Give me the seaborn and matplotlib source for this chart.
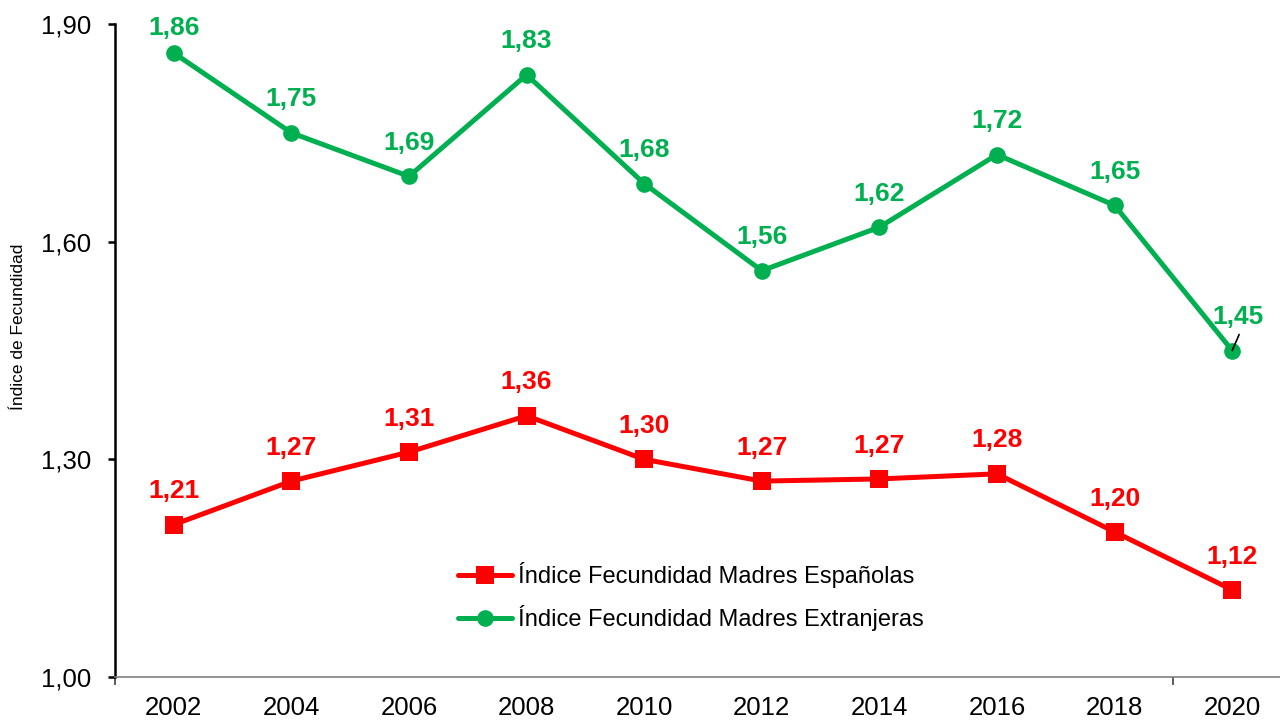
import matplotlib
matplotlib.use("Agg")
import matplotlib.pyplot as plt
import seaborn as sns
import pandas as pd

years = [2002, 2004, 2006, 2008, 2010, 2012, 2014, 2016, 2018, 2020]
espanolas = [1.21, 1.27, 1.31, 1.36, 1.30, 1.27, 1.273, 1.28, 1.20, 1.12]
extranjeras = [1.86, 1.75, 1.69, 1.83, 1.68, 1.56, 1.62, 1.72, 1.65, 1.45]
label_esp = "Índice Fecundidad Madres Españolas"
label_ext = "Índice Fecundidad Madres Extranjeras"
y_ticks = [1.00, 1.30, 1.60, 1.90]
y_title = "Índice de Fecundidad"

RED = "#FF0000"
GREEN = "#00B050"

sns.set_theme(style="white")
plt.rcParams["font.family"] = ["Liberation Sans", "DejaVu Sans"]

fig = plt.figure(figsize=(12.8, 7.2), dpi=100)
ax = fig.add_axes([115 / 1280, 43 / 720, 1176 / 1280, 653 / 720])

df = pd.DataFrame({"year": years, "esp": espanolas, "ext": extranjeras})
sns.lineplot(data=df, x="year", y="esp", ax=ax, color=RED, linewidth=3.6,
             marker="s", markersize=12.5, markeredgewidth=0, label=label_esp)
sns.lineplot(data=df, x="year", y="ext", ax=ax, color=GREEN, linewidth=3.6,
             marker="o", markersize=12, markeredgewidth=0, label=label_ext)

ax.set_xlim(2001, 2021)
ax.set_ylim(1.0, 1.9)
ax.set_xticks(years)
ax.set_xticklabels([str(y) for y in years], fontsize=18.5, color="black")
ax.set_xticks([2001, 2019], minor=True)
ax.tick_params(axis="x", which="major", length=0, pad=14)
ax.tick_params(axis="x", which="minor", length=6, width=1.2, color="#404040",
               direction="out", bottom=True)
ax.set_yticks(y_ticks)
ax.set_yticklabels([f"{v:.2f}".replace(".", ",") for v in y_ticks],
                   fontsize=18.5, color="black")
ax.tick_params(axis="y", length=5, width=1.8, color="black", direction="out",
               pad=12, left=True)
ax.set_xlabel("")
ax.set_ylabel("")
fig.text(19 / 1280, 1 - 327 / 720, y_title, rotation=90, ha="center",
         va="center", fontsize=12.5, color="black")

for s in ["top", "right"]:
    ax.spines[s].set_visible(False)
ax.spines["left"].set_color("black")
ax.spines["left"].set_linewidth(1.8)
ax.spines["bottom"].set_color("#808080")
ax.spines["bottom"].set_linewidth(1.2)
ax.grid(False)

def fmt(v):
    return f"{v:.2f}".replace(".", ",")

LBL = 19

for x, v in zip(years, espanolas):
    ax.annotate(fmt(v), (x, v), xytext=(0, 19), textcoords="offset points",
                ha="center", va="baseline", fontsize=LBL, fontweight="bold",
                color=RED)

for i, (x, v) in enumerate(zip(years, extranjeras)):
    if i == 0:
        ax.annotate(fmt(v), (x, v), xytext=(0, 13), textcoords="offset points",
                    ha="center", va="baseline", fontsize=LBL,
                    fontweight="bold", color=GREEN)
    elif i == len(years) - 1:
        ax.annotate(fmt(v), (x, v), xytext=(4.5, 19), textcoords="offset points",
                    ha="center", va="baseline", fontsize=LBL,
                    fontweight="bold", color=GREEN)
        ax.annotate("", (x, v), xytext=(5, 11.5), textcoords="offset points",
                    arrowprops=dict(arrowstyle="-", color="black", lw=1.2,
                                    shrinkA=0, shrinkB=0))
    else:
        ax.annotate(fmt(v), (x, v), xytext=(0, 19), textcoords="offset points",
                    ha="center", va="baseline", fontsize=LBL,
                    fontweight="bold", color=GREEN)

leg = ax.legend(loc="center left", bbox_to_anchor=(458 / 1280, 1 - 596.5 / 720),
                bbox_transform=fig.transFigure, frameon=False, fontsize=17,
                handlelength=2.3, handletextpad=0.25, labelspacing=0.7,
                borderpad=0, borderaxespad=0)
for t in leg.get_texts():
    t.set_color("black")

fig.savefig("out.png", dpi=100)
